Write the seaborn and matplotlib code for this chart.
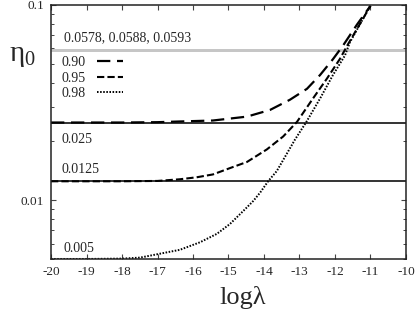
import numpy as np
import pandas as pd
import matplotlib
matplotlib.use("Agg")
import matplotlib.pyplot as plt
import matplotlib.ticker as mticker
import seaborn as sns

# values
log_lambda_90 = [-20, -19, -18, -17, -16.4, -15.44, -14.48, -13.83, -13.27, -12.79,
                 -12.42, -12.06, -11.77, -11.38, -11.0]
eta_90 = [0.025, 0.025, 0.025, 0.0251, 0.0253, 0.0256, 0.0268, 0.0290, 0.0327, 0.0372,
          0.0438, 0.0527, 0.0621, 0.0794, 0.099]

log_lambda_95 = [-20, -19, -18, -17, -16.37, -15.9, -15.44, -14.96, -14.48, -13.92, -13.46,
                 -13.07, -12.62, -12.23, -11.86, -11.63, -11.0]
eta_95 = [0.0125, 0.0125, 0.0125, 0.01255, 0.0128, 0.0131, 0.01355, 0.0146, 0.0157, 0.0182,
          0.0212, 0.0252, 0.0332, 0.0419, 0.0530, 0.0631, 0.099]

log_lambda_98 = [-20, -19, -18, -17.49, -16.93, -16.37, -15.80, -15.33, -14.96, -14.58,
                 -14.30, -14.11, -13.88, -13.64, -13.13, -12.80, -12.42, -12.06, -11.72,
                 -11.58, -11.0]
eta_98 = [0.005, 0.005, 0.00502, 0.00508, 0.00532, 0.00557, 0.00609, 0.00672, 0.00755, 0.00882,
          0.00992, 0.01093, 0.01253, 0.0141, 0.0204, 0.0253, 0.0332, 0.0437, 0.0551,
          0.0644, 0.0995]

plateaus = [0.025, 0.0125]
plateau_labels = ["0.025", "0.0125", "0.005"]
upper_lines = [0.0578, 0.0588, 0.0593]
upper_label = "0.0578, 0.0588, 0.0593"
series_labels = ["0.90", "0.95", "0.98"]

sns.set_style("ticks")
plt.rcParams['font.family'] = ['Liberation Serif', 'DejaVu Serif']
plt.rcParams['axes.unicode_minus'] = False
plt.rcParams['mathtext.fontset'] = 'custom'
plt.rcParams['mathtext.rm'] = 'Liberation Serif'
plt.rcParams['mathtext.it'] = 'Liberation Serif'

fig = plt.figure(figsize=(4.15, 3.12), dpi=100)
ax = fig.add_axes([0.1229, 0.170, 0.8554, 0.814])

for v in upper_lines:
    ax.axhline(v, color='#999999', lw=0.4)
for v in plateaus:
    ax.axhline(v, color='#333333', lw=1.4)

curves = [
    (log_lambda_90, eta_90, (0, (6, 3)), 1.6),
    (log_lambda_95, eta_95, (0, (3.5, 1.5)), 1.5),
    (log_lambda_98, eta_98, (0, (0.8, 0.8)), 1.4),
]
for (xs, ys, ls, lw), lab in zip(curves, series_labels):
    df = pd.DataFrame({'log_lambda': xs, 'eta': ys})
    sns.lineplot(data=df, x='log_lambda', y='eta', ax=ax, color='black',
                 linestyle=ls, lw=lw, label=lab, sort=False)

ax.set_yscale('log')
ax.set_xlim(-20, -10)
ax.set_ylim(0.005, 0.1)
ax.xaxis.set_major_locator(mticker.MultipleLocator(1))
ax.xaxis.set_major_formatter(mticker.FuncFormatter(lambda v, p: f"{int(round(v))}"))
ax.yaxis.set_major_locator(mticker.FixedLocator([0.01, 0.1]))
ax.yaxis.set_major_formatter(mticker.FixedFormatter(["0.01", "0.1"]))
ax.yaxis.set_minor_locator(mticker.LogLocator(base=10, subs=np.arange(2, 10)))
ax.yaxis.set_minor_formatter(mticker.NullFormatter())
ax.tick_params(which='both', direction='in', top=True, right=True, labelsize=9.5,
               color='#444444')
ax.tick_params(which='major', length=3.5, width=0.8, pad=5)
ax.tick_params(which='minor', length=2.2, width=0.7)
for s in ax.spines.values():
    s.set_color('#222222')
    s.set_linewidth(1.1)

ax.text(-19.63, 0.0652, upper_label, fontsize=10)
ax.text(-19.70, 0.0196, plateau_labels[0], fontsize=10)
ax.text(-19.70, 0.01371, plateau_labels[1], fontsize=10)
ax.text(-19.65, 0.00542, plateau_labels[2], fontsize=10)

ax.legend(loc='upper left', bbox_to_anchor=(0.03, 0.80), frameon=False,
          markerfirst=False, fontsize=10, handlelength=1.9, handletextpad=0.8,
          labelspacing=0.2, borderpad=0, borderaxespad=0)

ax.set_xlabel("logλ", fontsize=19)
ax.set_ylabel("η$_0$", fontsize=21, rotation=0)
ax.xaxis.set_label_coords(0.541, -0.15)
ax.yaxis.set_label_coords(-0.08, 0.80)
ax.yaxis.label.set_verticalalignment('center')
ax.xaxis.label.set_verticalalignment('center')

fig.savefig("out.png", dpi=100)
